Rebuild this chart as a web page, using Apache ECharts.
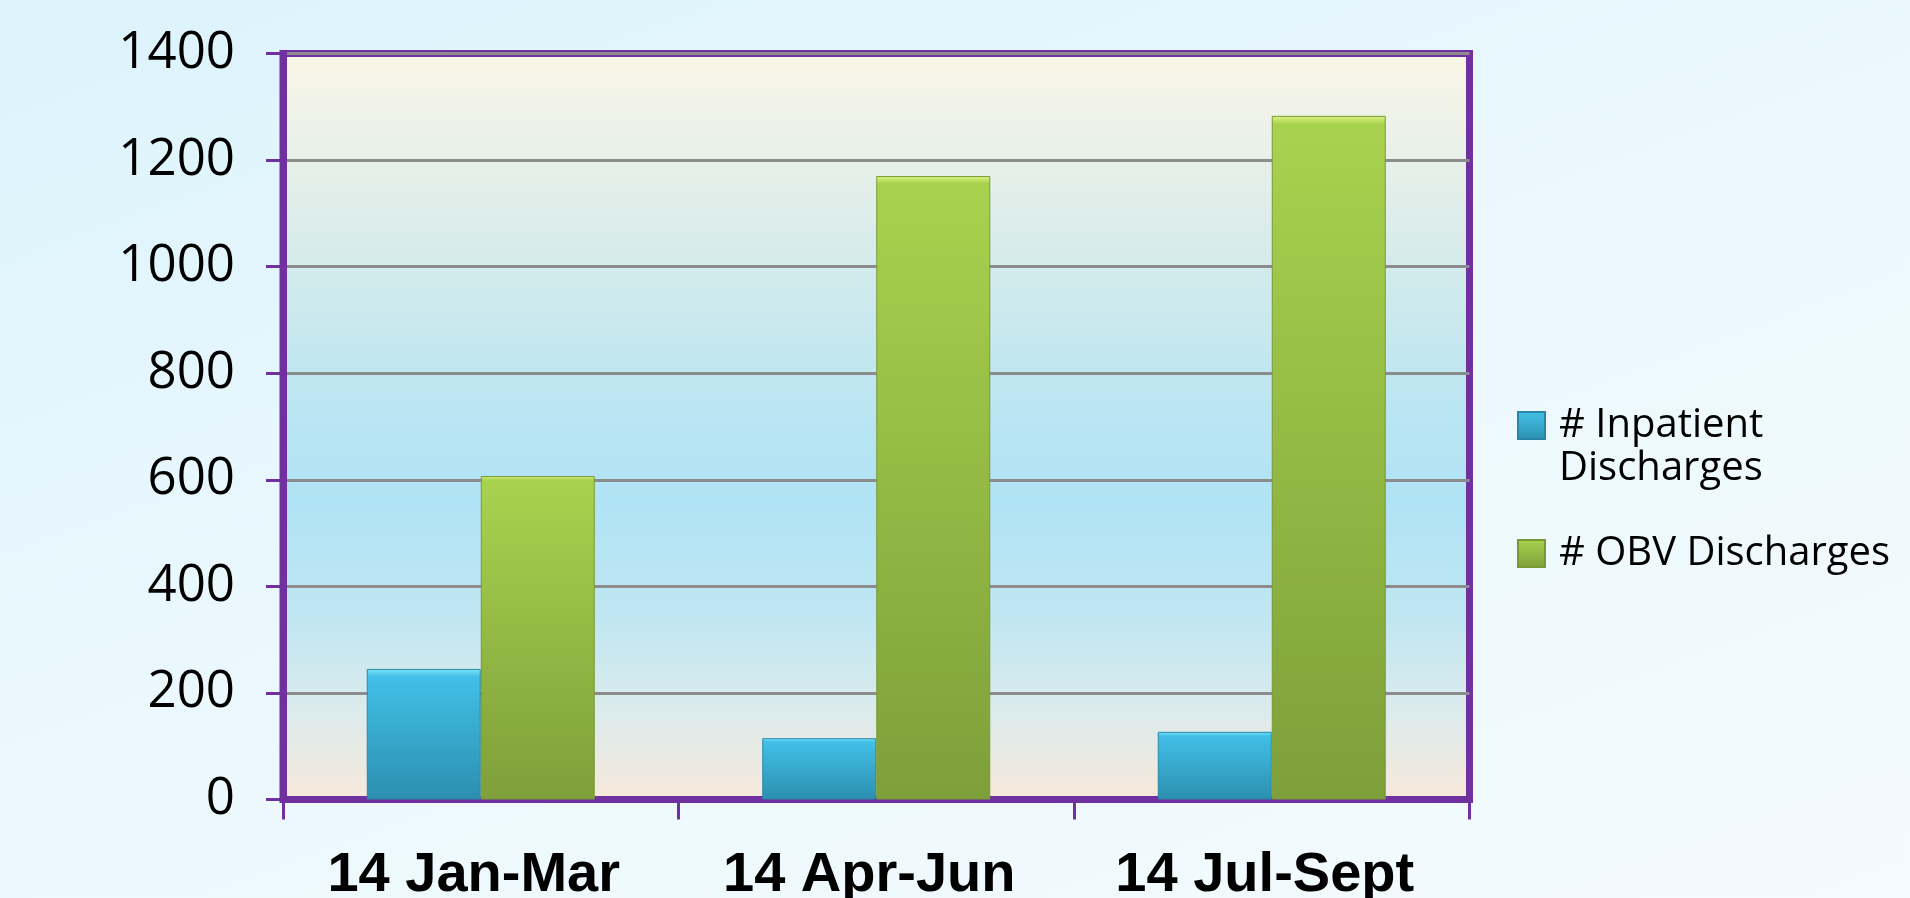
<!DOCTYPE html>
<html>
<head>
<meta charset="utf-8">
<script src="https://cdn.jsdelivr.net/npm/echarts@6/dist/echarts.min.js"></script>
<style>
  html, body { margin: 0; padding: 0; }
  body { width: 1910px; height: 898px; overflow: hidden;
         background: linear-gradient(160deg, #dcf3fc 0%, #eaf8fd 45%, #f4fbfe 100%); }
  #chart { width: 1910px; height: 898px; }
</style>
</head>
<body>
<div id="chart"></div>
<script>
const categories = ['14 Jan-Mar', '14 Apr-Jun', '14 Jul-Sept'];
const inpatientDischarges = [245, 115, 127];
const obvDischarges = [607, 1170, 1283];
const yTicks = { min: 0, max: 1400, interval: 200 };
const seriesNames = ['# Inpatient Discharges', '# OBV Discharges'];

const chart = echarts.init(document.getElementById('chart'), null, { renderer: 'canvas' });
const G = echarts.graphic.LinearGradient;
const purple = '#7030a0';

chart.setOption({
  backgroundColor: 'transparent',
  animation: false,
  grid: {
    left: 283, top: 53.5, right: 440.5, bottom: 98.5,
    outerBoundsMode: 'none',
    containLabel: false,
    show: true,
    borderColor: purple,
    borderWidth: 7,
    backgroundColor: new G(0, 0, 0, 1, [
      { offset: 0, color: '#fbf6e7' },
      { offset: 0.25, color: '#d9ecea' },
      { offset: 0.45, color: '#bde6f1' },
      { offset: 0.6, color: '#b0e3f5' },
      { offset: 0.75, color: '#bfe6f2' },
      { offset: 0.88, color: '#dcebec' },
      { offset: 1, color: '#f8e8da' }
    ])
  },
  legend: {
    orient: 'vertical',
    left: 1512,
    top: 356,
    itemWidth: 27,
    itemHeight: 27,
    itemGap: 42,
    icon: 'rect',
    data: seriesNames,
    formatter: function (name) {
      return name === seriesNames[0] ? ' \n# Inpatient\nDischarges' : name;
    },
    textStyle: {
      fontFamily: 'Open Sans',
      fontSize: 40,
      color: '#000',
      lineHeight: 43,
      padding: [0, 0, 0, 9]
    }
  },
  xAxis: {
    type: 'category',
    data: categories,
    axisLine: { show: true, lineStyle: { color: purple, width: 7 } },
    axisTick: { show: true, length: 20, lineStyle: { color: purple, width: 3 } },
    axisLabel: {
      fontFamily: 'Liberation Sans, Arial, sans-serif',
      fontWeight: 'bold',
      fontSize: 56,
      color: '#000',
      margin: 48,
      padding: [0, 14, 0, 0]
    }
  },
  yAxis: {
    type: 'value',
    min: yTicks.min, max: yTicks.max, interval: yTicks.interval,
    axisLine: { show: true, lineStyle: { color: purple, width: 7 } },
    axisTick: { show: true, length: 17, lineStyle: { color: purple, width: 3 } },
    axisLabel: {
      fontFamily: 'Open Sans',
      fontSize: 51,
      color: '#000',
      margin: 48,
      formatter: function (v) { return String(v); }
    },
    splitLine: { show: true, lineStyle: { color: '#8c8c8c', width: 3 } }
  },
  series: [
    {
      name: seriesNames[0],
      type: 'bar',
      data: inpatientDischarges,
      barWidth: 114,
      barGap: '0%',
      itemStyle: {
        color: new G(0, 0, 0, 1, [
          { offset: 0, color: '#7fe6f8' },
          { offset: 0.06, color: '#41bfe6' },
          { offset: 1, color: '#2c8fb0' }
        ]),
        borderColor: '#2a86a8',
        borderWidth: 1
      }
    },
    {
      name: seriesNames[1],
      type: 'bar',
      data: obvDischarges,
      barWidth: 114,
      barGap: '0%',
      itemStyle: {
        color: new G(0, 0, 0, 1, [
          { offset: 0, color: '#dcf584' },
          { offset: 0.012, color: '#a8d24e' },
          { offset: 1, color: '#7e9f3a' }
        ]),
        borderColor: '#789a36',
        borderWidth: 1
      }
    }
  ]
});
</script>
</body>
</html>
